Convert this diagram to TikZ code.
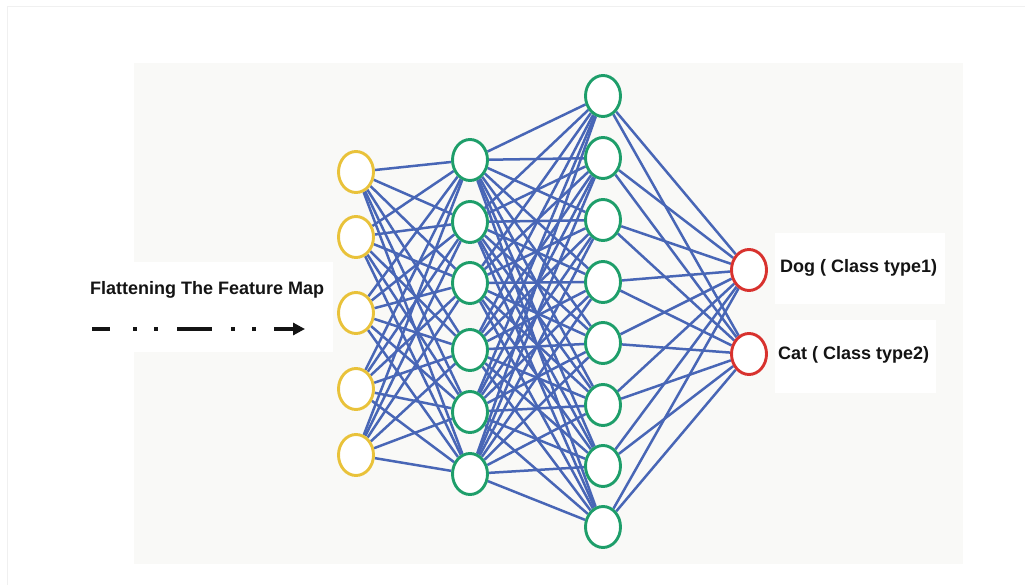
\documentclass[tikz,border=0pt]{standalone}
\usepackage{fontspec}
\setmainfont{Liberation Sans}
\usetikzlibrary{shapes.geometric,arrows.meta}

\definecolor{panelgray}{RGB}{249,249,247}
\definecolor{framegray}{RGB}{240,240,240}
\definecolor{edgeblue}{RGB}{72,102,182}
\definecolor{inyellow}{RGB}{233,194,58}
\definecolor{hidgreen}{RGB}{30,158,106}
\definecolor{outred}{RGB}{216,50,46}
\definecolor{labelink}{RGB}{20,20,20}

\pgfdeclarelayer{backdrop}
\pgfdeclarelayer{wires}
\pgfsetlayers{backdrop,wires,main}

\tikzset{
  neuron/.style={ellipse, draw, line width=2.9pt, fill=white,
    minimum width=35pt, minimum height=41pt, inner sep=0pt},
  inunit/.style={neuron, draw=inyellow},
  hidunit/.style={neuron, draw=hidgreen},
  outunit/.style={neuron, draw=outred},
  link/.style={draw=edgeblue, line width=2.5pt},
  caption/.style={font=\fontsize{18}{21}\selectfont\bfseries, text=labelink,
    inner sep=0pt, anchor=west},
  flowline/.style={line width=4pt, draw=labelink},
}

\begin{document}
\begin{tikzpicture}[x=1pt,y=-1pt]
  \useasboundingbox (0,0) rectangle (1025,585);

  % page, panel and white backdrops behind the labels
  \begin{pgfonlayer}{backdrop}
    \fill[white] (0,0) rectangle (1025,585);
    \draw[framegray, line width=1pt] (7,7) rectangle (1030,590);
    \fill[panelgray] (134,63) rectangle (963,564);
    \fill[white] (78,262) rectangle (333,352);
    \fill[white] (775,233) rectangle (945,304);
    \fill[white] (775,320) rectangle (936,393);
  \end{pgfonlayer}

  % input layer
  \foreach \i/\y in {1/172,2/237,3/313,4/389,5/455}
    \node[inunit] (a\i) at (356,\y) {};
  % first hidden layer
  \foreach \i/\y in {1/160,2/222,3/283,4/350,5/412,6/474}
    \node[hidunit] (b\i) at (470,\y) {};
  % second hidden layer
  \foreach \i/\y in {1/96,2/158,3/220,4/282,5/343,6/405,7/466,8/527}
    \node[hidunit] (c\i) at (603,\y) {};
  % output layer
  \node[outunit] (d1) at (749,270) {};
  \node[outunit] (d2) at (749,354) {};

  % full connections between neighbouring layers, under the units
  \begin{pgfonlayer}{wires}
    \foreach \i in {1,...,5}
      \foreach \j in {1,...,6}
        \draw[link] (a\i) -- (b\j);
    \foreach \i in {1,...,6}
      \foreach \j in {1,...,8}
        \draw[link] (b\i) -- (c\j);
    \foreach \i in {1,...,8}
      \foreach \j in {1,2}
        \draw[link] (c\i) -- (d\j);
  \end{pgfonlayer}

  % class labels
  \node[caption] (dog) at (780,268) {Dog ( Class type1)};
  \node[caption] (cat) at (778,355) {Cat ( Class type2)};

  % flattening caption and its dash-dot arrow
  \node[caption] (flat) at (90,290) {Flattening The Feature Map};
  \coordinate (fs) at (92,329);
  \coordinate (fm) at (274,329);
  \coordinate (fe) at (305,329);
  \draw[flowline, dash pattern=on 18pt off 23pt on 4pt off 17pt on 4pt off 19pt
        on 35pt off 19pt on 4pt off 17pt on 4pt off 19pt] (fs) -- (fm);
  \draw[flowline, -{Triangle[length=12pt,width=12pt]}] (fm) -- (fe);
\end{tikzpicture}
\end{document}
